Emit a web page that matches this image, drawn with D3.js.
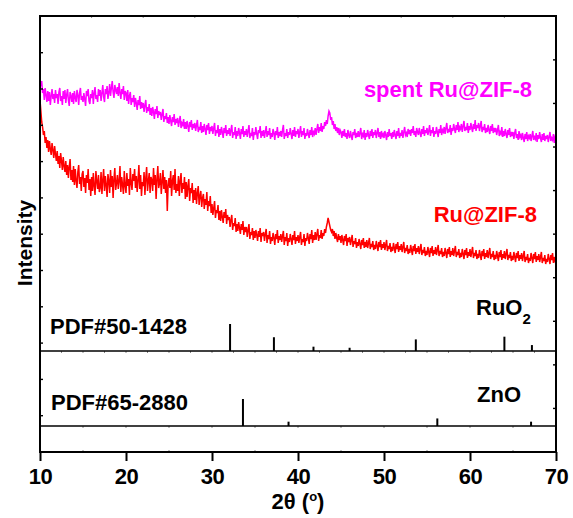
<!DOCTYPE html>
<html>
<head>
<meta charset="utf-8">
<script src="https://cdn.jsdelivr.net/npm/d3@7"></script>
<style>
  body { margin: 0; background: #fff; }
  svg text { font-family: "Liberation Sans", Arial, sans-serif; font-weight: bold; }
</style>
</head>
<body>
<svg id="chart" width="573" height="518"></svg>
<script>
// ***** Data (intensity in a.u., 2theta from 10 to 70 in 0.1 deg steps, one row per degree) *****
const spentIntensity = [
  274, 265, 270, 258, 262, 251, 263, 256, 249, 260,
  250, 259, 246, 255, 262, 252, 257, 248, 261, 253,
  257, 247, 259, 263, 250, 255, 246, 260, 252, 261,
  248, 256, 262, 251, 245, 259, 255, 249, 258, 247,
  260, 253, 249, 261, 256, 246, 258, 263, 251, 255,
  249, 258, 252, 245, 260, 255, 262, 250, 247, 257,
  253, 261, 247, 258, 264, 252, 256, 249, 262, 255,
  261, 250, 258, 266, 254, 249, 262, 257, 265, 252,
  258, 267, 255, 263, 270, 259, 253, 266, 261, 257,
  264, 255, 268, 258, 252, 262, 257, 265, 251, 260,
  258, 250, 261, 247, 255, 259, 246, 253, 249, 256,
  244, 253, 248, 241, 251, 246, 255, 242, 249, 243,
  248, 239, 246, 251, 238, 244, 240, 247, 236, 243,
  235, 244, 239, 232, 242, 237, 245, 233, 240, 236,
  239, 231, 237, 242, 229, 235, 232, 238, 228, 234,
  227, 236, 230, 225, 234, 229, 237, 226, 232, 228,
  233, 224, 230, 235, 223, 228, 226, 232, 222, 229,
  222, 230, 225, 219, 229, 224, 231, 221, 227, 223,
  228, 220, 226, 231, 219, 224, 221, 229, 218, 225,
  219, 227, 222, 216, 226, 221, 228, 217, 224, 220,
  225, 217, 223, 228, 215, 221, 218, 226, 214, 222,
  216, 224, 219, 213, 223, 218, 226, 215, 221, 217,
  223, 215, 221, 226, 213, 219, 216, 224, 212, 220,
  215, 223, 218, 212, 222, 217, 225, 214, 220, 216,
  222, 214, 220, 226, 213, 218, 215, 223, 211, 219,
  216, 224, 217, 212, 221, 218, 225, 213, 220, 215,
  221, 213, 219, 225, 214, 220, 216, 223, 212, 218,
  214, 222, 218, 211, 220, 216, 224, 213, 219, 215,
  220, 214, 221, 226, 212, 218, 215, 222, 213, 219,
  216, 223, 217, 212, 221, 215, 224, 214, 220, 217,
  222, 213, 219, 225, 214, 220, 216, 223, 212, 218,
  215, 222, 217, 213, 221, 216, 224, 214, 219, 217,
  223, 216, 222, 227, 218, 224, 220, 228, 219, 225,
  222, 229, 225, 231, 227, 235, 240, 238, 231, 234,
  226, 230, 222, 227, 220, 224, 218, 223, 216, 221,
  219, 213, 220, 215, 222, 214, 218, 212, 221, 216,
  213, 220, 215, 211, 219, 216, 222, 213, 218, 214,
  220, 214, 218, 223, 212, 217, 215, 221, 211, 218,
  214, 221, 216, 212, 220, 215, 222, 213, 219, 216,
  221, 213, 218, 223, 214, 219, 212, 220, 215, 217,
  213, 220, 216, 211, 219, 214, 222, 215, 218, 212,
  219, 214, 221, 216, 212, 220, 215, 223, 213, 218,
  215, 221, 213, 219, 224, 216, 218, 214, 222, 217,
  221, 215, 222, 218, 225, 216, 220, 214, 223, 219,
  216, 223, 218, 214, 222, 217, 225, 215, 221, 218,
  223, 216, 220, 226, 215, 221, 218, 224, 214, 220,
  217, 224, 219, 214, 222, 218, 226, 216, 221, 219,
  224, 217, 223, 228, 218, 222, 219, 226, 216, 223,
  220, 227, 222, 218, 226, 221, 229, 219, 224, 222,
  227, 219, 225, 230, 220, 224, 221, 228, 218, 225,
  221, 228, 223, 219, 227, 222, 231, 220, 226, 223,
  228, 220, 225, 230, 219, 224, 221, 227, 218, 223,
  219, 226, 221, 217, 225, 220, 227, 218, 223, 219,
  223, 216, 221, 226, 215, 219, 217, 224, 214, 220,
  215, 222, 217, 213, 221, 216, 223, 214, 219, 215,
  219, 212, 218, 222, 213, 217, 211, 220, 214, 216,
  211, 218, 213, 209, 217, 212, 219, 210, 215, 213,
  217, 210, 215, 220, 211, 214, 212, 218, 209, 216,
  212, 219, 213, 209, 217, 211, 218, 210, 215, 212,
  216, 209, 214, 219, 210, 213, 211, 217, 208, 214,
  212
];

const freshIntensity = [
  251, 240, 229, 224, 216, 220, 208, 214, 203, 211,
  199, 210, 202, 196, 208, 201, 193, 205, 197, 190,
  200, 187, 195, 183, 198, 190, 181, 194, 185, 179,
  190, 176, 186, 173, 184, 192, 171, 181, 169, 185,
  166, 182, 170, 163, 179, 186, 167, 174, 160, 177,
  180, 164, 173, 158, 176, 168, 182, 161, 172, 155,
  174, 160, 178, 165, 156, 180, 170, 162, 176, 159,
  163, 179, 157, 171, 182, 160, 175, 166, 154, 177,
  170, 158, 181, 164, 175, 153, 172, 183, 161, 168,
  176, 162, 170, 185, 159, 174, 166, 157, 180, 165,
  158, 178, 165, 172, 156, 183, 168, 161, 177, 170,
  182, 163, 175, 159, 171, 186, 162, 176, 155, 169,
  165, 179, 156, 173, 184, 160, 170, 178, 158, 174,
  171, 160, 183, 166, 176, 152, 172, 185, 163, 168,
  178, 157, 169, 181, 162, 174, 158, 171, 140, 166,
  173, 163, 180, 155, 170, 176, 161, 182, 158, 167,
  160, 175, 155, 170, 178, 158, 168, 162, 174, 152,
  169, 154, 165, 172, 150, 163, 158, 168, 148, 161,
  151, 163, 147, 158, 165, 146, 155, 160, 144, 153,
  157, 142, 152, 146, 159, 140, 150, 145, 155, 138,
  147, 136, 143, 150, 133, 141, 138, 146, 131, 140,
  130, 141, 134, 128, 139, 133, 142, 127, 136, 131,
  134, 124, 131, 136, 121, 128, 125, 133, 119, 127,
  120, 129, 123, 117, 127, 121, 130, 116, 124, 119,
  124, 114, 121, 127, 112, 119, 116, 123, 111, 120,
  113, 121, 116, 110, 120, 114, 123, 109, 118, 115,
  119, 110, 117, 122, 108, 116, 112, 120, 107, 114,
  110, 118, 113, 106, 117, 112, 121, 108, 115, 111,
  117, 109, 115, 120, 106, 114, 110, 118, 105, 113,
  109, 117, 112, 106, 116, 111, 120, 107, 114, 110,
  116, 108, 114, 119, 106, 112, 109, 117, 105, 113,
  110, 118, 113, 107, 117, 112, 121, 108, 116, 111,
  119, 111, 117, 122, 110, 116, 113, 121, 112, 118,
  115, 122, 118, 124, 128, 133, 129, 125, 121, 119,
  122, 115, 120, 112, 118, 113, 109, 117, 111, 115,
  108, 116, 111, 106, 115, 110, 117, 105, 113, 109,
  114, 106, 111, 116, 104, 110, 107, 113, 103, 109,
  105, 112, 107, 102, 111, 106, 113, 103, 109, 104,
  111, 103, 108, 113, 102, 107, 104, 110, 101, 106,
  102, 110, 105, 100, 109, 104, 111, 101, 107, 103,
  109, 101, 106, 111, 100, 105, 102, 108,  99, 104,
  100, 108, 103,  98, 107, 102, 109,  99, 105, 101,
  107,  99, 104, 109,  98, 103, 100, 106,  97, 102,
   98, 106, 101,  96, 105, 100, 107,  97, 103,  99,
  105,  97, 102, 107,  96, 101,  98, 104,  95, 100,
   96, 104,  99,  94, 103,  98, 105,  95, 101,  97,
  104,  96, 101, 106,  95, 100,  97, 103,  94,  99,
   95, 103,  98,  93, 102,  97, 104,  94, 100,  96,
  103,  95, 100, 105,  94,  99,  96, 102,  93,  98,
   94, 102,  97,  92, 101,  96, 103,  93,  99,  95,
  102,  94,  99, 104,  93,  98,  95, 101,  92,  97,
   93, 101,  96,  91, 100,  95, 102,  92,  98,  94,
  101,  93,  98, 103,  92,  97,  94, 100,  91,  96,
   92, 100,  95,  90,  99,  94, 101,  91,  97,  93,
  100,  92,  97, 102,  91,  96,  93,  99,  90,  95,
   91,  99,  94,  89,  98,  93, 100,  90,  96,  92,
   98,  90,  95, 100,  89,  94,  91,  97,  88,  93,
   90,  98,  93,  88,  97,  92,  99,  89,  95,  91,
   97,  89,  94,  99,  88,  93,  90,  96,  87,  92,
   89,  97,  92,  87,  96,  91,  98,  88,  94,  90,
   92
];

// reference patterns (stick positions in deg, relative heights)
const ruO2Peaks = [32.1, 37.2, 41.8, 46.0, 53.7, 64.0, 67.2];
const ruO2Heights = [100, 51, 16, 12, 43, 53, 22];
const znOPeaks = [33.6, 38.9, 56.2, 67.1];
const znOHeights = [100, 16, 28, 16];

const xTickValues = [10, 20, 30, 40, 50, 60, 70];
const seriesNames = ["spent Ru@ZIF-8", "Ru@ZIF-8"];
const seriesColors = ["#ff00ff", "#ff0000"];

// ***** Layout *****
const plotLeft = 40, plotRight = 556, plotTop = 16, plotBottom = 452;
const panel1Base = 351, panel2Base = 426;

const svg = d3.select("#chart");

const xScale = d3.scaleLinear().domain([10, 70]).range([plotLeft, plotRight]);
const yScaleTop = d3.scaleLinear().domain([0, 335]).range([panel1Base, plotTop]);
const stickScale = d3.scaleLinear().domain([0, 100]).range([0, 27]);
const yLeftTicks = d3.scaleLinear().domain([0, 12]).range([plotBottom, plotTop + 0.4]);
const yRightTicks = d3.scaleLinear().domain([0, 10]).range([plotBottom, plotTop + 0.3]);

const twoTheta = d3.range(0, spentIntensity.length).map(i => 10 + i * 0.1);

svg.append("clipPath")
  .attr("id", "plotClip")
  .append("rect")
  .attr("x", plotLeft)
  .attr("y", plotTop)
  .attr("width", plotRight - plotLeft)
  .attr("height", panel1Base - plotTop);

// ***** Draw the patterns *****
function drawPattern(values, color) {
  const line = d3.line()
    .x(function(d, i) { return xScale(twoTheta[i]); })
    .y(function(d) { return yScaleTop(d); });

  svg.append("path")
    .datum(values)
    .attr("clip-path", "url(#plotClip)")
    .attr("fill", "none")
    .attr("stroke", color)
    .attr("stroke-width", 1.5)
    .attr("stroke-linejoin", "miter")
    .attr("d", line);
}

drawPattern(spentIntensity, seriesColors[0]);
drawPattern(freshIntensity, seriesColors[1]);

// ***** Reference sticks *****
function drawSticks(peaks, heights, base) {
  svg.append("g")
    .selectAll("line")
    .data(peaks)
    .enter()
    .append("line")
    .attr("x1", d => xScale(d))
    .attr("x2", d => xScale(d))
    .attr("y1", base)
    .attr("y2", (d, i) => base - stickScale(heights[i]))
    .attr("stroke", "#000")
    .attr("stroke-width", 2);
}

drawSticks(ruO2Peaks, ruO2Heights, panel1Base);
drawSticks(znOPeaks, znOHeights, panel2Base);

// ***** Frame, dividers and ticks *****
const frame = svg.append("g");

// faint minor ticks
function faintTicks(values, y, dir, len) {
  frame.append("g")
    .selectAll("line")
    .data(values)
    .enter()
    .append("line")
    .attr("x1", d => xScale(d))
    .attr("x2", d => xScale(d))
    .attr("y1", y)
    .attr("y2", y + dir * len)
    .attr("stroke", "#888")
    .attr("stroke-width", 1);
}
faintTicks(d3.range(16, 70, 6), plotTop, 1, 2);
faintTicks(d3.range(12.5, 70, 2.5), panel1Base, 1, 2);
faintTicks(d3.range(15, 70, 5), panel2Base, 1, 2);
faintTicks(d3.range(15, 70, 10), plotBottom, -1, 2);

[panel1Base, panel2Base].forEach(function(y) {
  frame.append("line")
    .attr("x1", plotLeft).attr("x2", plotRight)
    .attr("y1", y).attr("y2", y)
    .attr("stroke", "#000")
    .attr("stroke-width", 1.6);
});

// y ticks (inward)
frame.append("g")
  .selectAll("line")
  .data(d3.range(1, 12))
  .enter()
  .append("line")
  .attr("x1", plotLeft).attr("x2", plotLeft + 3)
  .attr("y1", d => yLeftTicks(d)).attr("y2", d => yLeftTicks(d))
  .attr("stroke", "#000").attr("stroke-width", 1.4);

frame.append("g")
  .selectAll("line")
  .data(d3.range(1, 10))
  .enter()
  .append("line")
  .attr("x1", plotRight).attr("x2", plotRight - 3)
  .attr("y1", d => yRightTicks(d)).attr("y2", d => yRightTicks(d))
  .attr("stroke", "#000").attr("stroke-width", 1.4);

// bottom axis
const xAxis = d3.axisBottom(xScale)
  .tickValues(xTickValues)
  .tickSize(9)
  .tickSizeOuter(0)
  .tickPadding(7)
  .tickFormat(d3.format("d"));

const axisG = frame.append("g")
  .attr("transform", "translate(0," + plotBottom + ")")
  .call(xAxis);
axisG.select(".domain").remove();
axisG.selectAll(".tick line").attr("stroke", "#000").attr("stroke-width", 2);
axisG.selectAll(".tick text")
  .attr("fill", "#000")
  .attr("dy", null)
  .attr("y", 32)
  .style("font-size", "22px")
  .style("font-family", "'Liberation Sans', Arial, sans-serif")
  .style("font-weight", "bold")
  .style("letter-spacing", "-0.5px");

frame.append("rect")
  .attr("x", plotLeft).attr("y", plotTop)
  .attr("width", plotRight - plotLeft).attr("height", plotBottom - plotTop)
  .attr("fill", "none")
  .attr("stroke", "#000")
  .attr("stroke-width", 2);

// ***** Texts *****
function label(x, y, txt, color, anchor) {
  return svg.append("text")
    .attr("x", x)
    .attr("y", y)
    .attr("text-anchor", anchor || "start")
    .attr("fill", color || "#000")
    .style("font-size", "22px")
    .text(txt);
}

label(532, 97, seriesNames[0], seriesColors[0], "end");
label(537, 222, seriesNames[1], seriesColors[1], "end");
label(50, 334, "PDF#50-1428");
label(51, 410, "PDF#65-2880");
label(477, 402, "ZnO");

const ru = label(476, 315, "RuO");
ru.append("tspan")
  .attr("dy", 9)
  .style("font-size", "15px")
  .text("2");

const xTitle = svg.append("text")
  .attr("x", 298)
  .attr("y", 509)
  .attr("text-anchor", "middle")
  .style("font-size", "22px")
  .text("2\u03b8 (");
xTitle.append("tspan")
  .attr("dy", -8)
  .style("font-size", "13px")
  .text("o");
xTitle.append("tspan")
  .attr("dy", 8)
  .text(")");

svg.append("text")
  .attr("transform", "translate(32,243) rotate(-90)")
  .attr("text-anchor", "middle")
  .style("font-size", "21px")
  .text("Intensity");
</script>
</body>
</html>
